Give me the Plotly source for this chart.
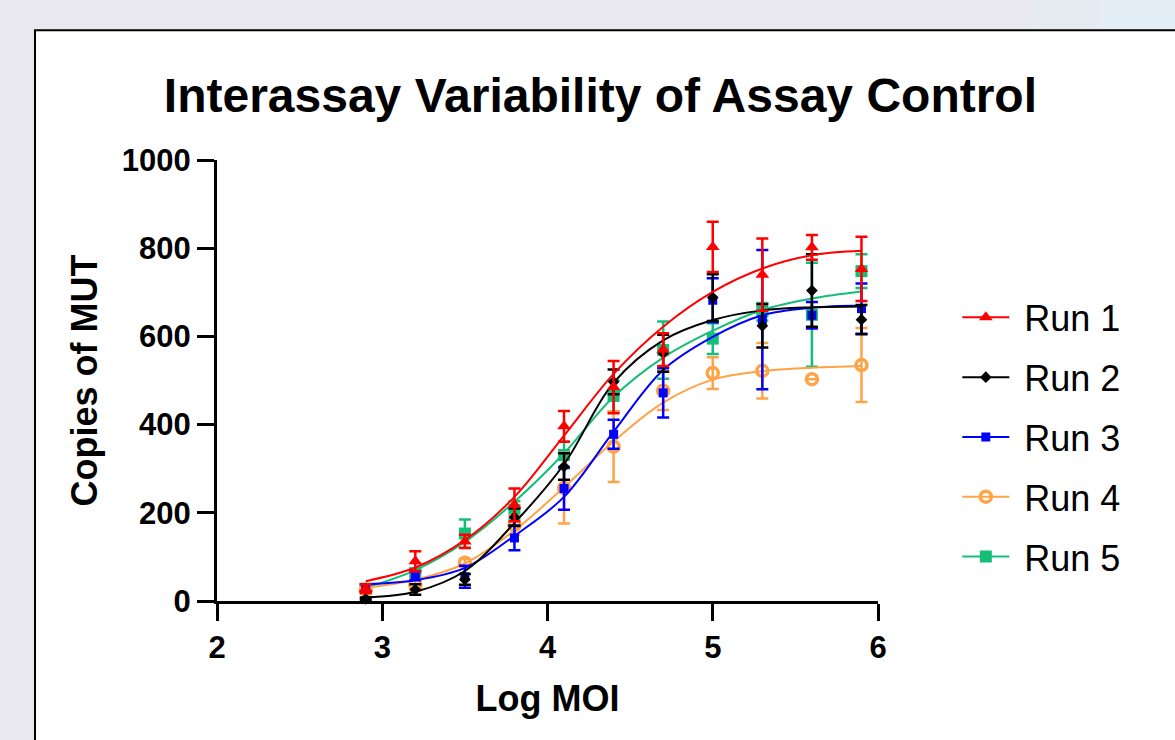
import plotly.graph_objects as go

# Log MOI positions of the measured points
log_moi = [2.9, 3.2, 3.5, 3.8, 4.1, 4.4, 4.7, 5.0, 5.3, 5.6, 5.9]

# mean copies of MUT and error (SD) per run
run1_mean = [28, 90, 135, 218, 396, 485, 570, 803, 740, 802, 753]
run1_err = [10, 23, 15, 37, 35, 59, 37, 57, 82, 28, 73]
run2_mean = [5, 26, 49, 190, 305, 497, 562, 688, 624, 704, 638]
run2_err = [3, 12, 12, 20, 30, 28, 42, 53, 49, 82, 33]
run3_mean = [30, 57, 55, 143, 255, 378, 472, 682, 638, 648, 663]
run3_err = [8, 10, 25, 28, 48, 33, 56, 50, 158, 30, 57]
run4_mean = [25, 36, 87, 172, 256, 350, 477, 517, 522, 503, 535]
run4_err = [5, 12, 8, 22, 80, 80, 44, 36, 63, 0, 84]
run5_mean = [28, 63, 153, 206, 331, 465, 569, 595, 656, 649, 748]
run5_err = [8, 10, 32, 20, 30, 35, 65, 35, 20, 118, 38]

# fitted curves, read at the same Log MOI positions
run1_fit = [45, 76, 138, 236, 375, 515, 622, 701, 754, 784, 794]
run2_fit = [8, 21, 68, 177, 310, 495, 591, 637, 659, 666, 668]
run3_fit = [38, 47, 75, 148, 236, 384, 524, 599, 648, 665, 670]
run4_fit = [30, 48, 85, 160, 258, 362, 450, 502, 521, 529, 533]
run5_fit = [30, 70, 134, 225, 335, 463, 552, 613, 660, 686, 702]

run_names = ["Run 1", "Run 2", "Run 3", "Run 4", "Run 5"]
run_colors = ["#FF0000", "#000000", "#0000FF", "#FFA347", "#14BE78"]
run_symbols = ["triangle-up", "diamond", "square", "circle-open", "square"]
run_sizes = [12, 9, 9, 11, 12]

means = [run1_mean, run2_mean, run3_mean, run4_mean, run5_mean]
errs = [run1_err, run2_err, run3_err, run4_err, run5_err]
fits = [run1_fit, run2_fit, run3_fit, run4_fit, run5_fit]

FONT = "Liberation Sans, Arial, sans-serif"

fig = go.Figure()

# legend entries (line + marker), Run 1 on top
for i, name in enumerate(run_names):
    fig.add_trace(go.Scatter(
        x=[None], y=[None], mode="lines+markers", name="\u00a0" + name,
        legendgroup=name,
        line=dict(color=run_colors[i], width=2),
        marker=dict(symbol=run_symbols[i], size=run_sizes[i], color=run_colors[i],
                    line=dict(width=3.5 if i == 3 else 0, color=run_colors[i])),
    ))

# data, drawn from Run 5 up so that Run 1 sits on top
for i in [4, 3, 2, 1, 0]:
    c = run_colors[i]
    fig.add_trace(go.Scatter(
        x=log_moi, y=fits[i], mode="lines", line=dict(color=c, width=2, shape="spline"),
        legendgroup=run_names[i], showlegend=False, hoverinfo="skip",
    ))
    fig.add_trace(go.Scatter(
        x=log_moi, y=means[i], mode="markers", name=run_names[i],
        legendgroup=run_names[i], showlegend=False,
        marker=dict(symbol=run_symbols[i], size=run_sizes[i], color=c,
                    line=dict(width=3.5 if i == 3 else 0, color=c)),
        error_y=dict(type="data", array=errs[i], color=c, thickness=2.5, width=6),
        cliponaxis=False,
    ))

# faint blue tint in the top right of the page
fig.add_shape(type="rect", xref="paper", yref="paper", layer="below",
              x0=1.232, x1=1.338, y0=1.29, y1=1.4,
              fillcolor="#E6EAF1", line=dict(width=0))
fig.add_shape(type="rect", xref="paper", yref="paper", layer="below",
              x0=1.338, x1=1.6, y0=1.29, y1=1.4,
              fillcolor="#E3EEF7", line=dict(width=0))
# white panel with black frame on the grey page
fig.add_shape(type="rect", xref="paper", yref="paper", layer="below",
              x0=-0.2753, x1=1.6, y0=-0.4, y1=1.294,
              fillcolor="white", line=dict(color="black", width=2))

axis_common = dict(
    showline=True, linewidth=3, linecolor="black", mirror=False,
    ticks="outside", ticklen=17, tickwidth=3, tickcolor="black",
    showgrid=False, zeroline=False,
    tickfont=dict(family=FONT, size=31, color="black", weight="bold"),
)

fig.update_layout(
    width=1175, height=740,
    margin=dict(l=217, r=297, t=160, b=139),
    paper_bgcolor="#E8E8EE",
    plot_bgcolor="white",
    font=dict(family=FONT, color="black"),
    title=dict(text="<b>Interassay Variability of Assay Control</b>",
               font=dict(family=FONT, size=48, color="black"),
               x=0.511, xanchor="center", y=0.872, yanchor="middle"),
    xaxis=dict(axis_common, range=[2, 6], tickvals=[2, 3, 4, 5, 6],
               title=dict(text="<b>Log MOI</b>", font=dict(family=FONT, size=36), standoff=22)),
    yaxis=dict(axis_common, range=[0, 1000], tickvals=[0, 200, 400, 600, 800, 1000],
               title=dict(text="<b>Copies of MUT</b>", font=dict(family=FONT, size=36), standoff=14)),
    legend=dict(x=1.12, y=0.372, xanchor="left", yanchor="middle",
                font=dict(family=FONT, size=36, color="black"),
                bgcolor="rgba(0,0,0,0)", itemwidth=47, tracegroupgap=10),
    showlegend=True,
)

fig.write_html("out.html", config={"displayModeBar": False},
               post_script="document.body.style.margin='0';")
